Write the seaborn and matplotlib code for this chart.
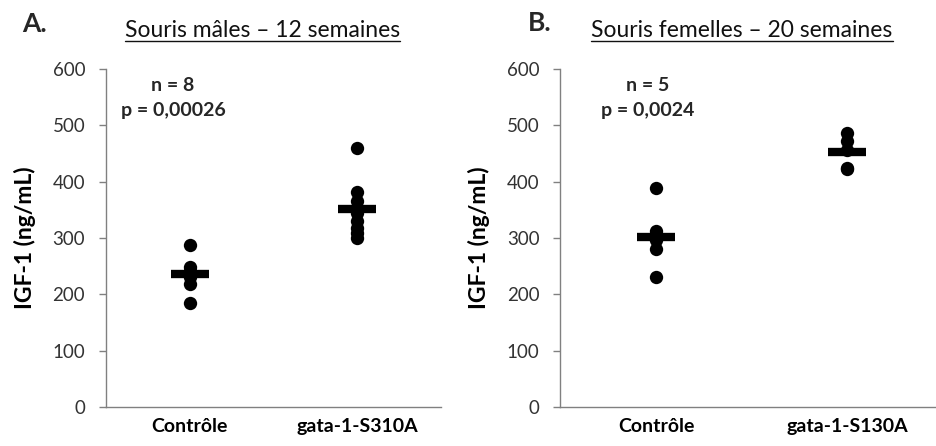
import matplotlib
matplotlib.use("Agg")
import matplotlib.pyplot as plt
import seaborn as sns
import pandas as pd
from matplotlib.lines import Line2D

# ---- data ----
groups_a = ["Contrôle", "gata-1-S310A"]
ctrl_a = [287, 248, 242, 238, 235, 230, 218, 185]
mut_a = [460, 382, 365, 345, 330, 318, 308, 300]

groups_b = ["Contrôle", "gata-1-S130A"]
ctrl_b = [388, 312, 296, 280, 230]
mut_b = [487, 473, 456, 425, 423]

titles = ["Souris mâles – 12 semaines", "Souris femelles – 20 semaines"]
letters = ["A.", "B."]
annots = [("n = 8", "p = 0,00026"), ("n = 5", "p = 0,0024")]
yticks = [0, 100, 200, 300, 400, 500, 600]
ylabel = "IGF-1 (ng/mL)"

sns.set_theme(style="white")
plt.rcParams["font.family"] = ["Lato", "DejaVu Sans"]

fig = plt.figure(figsize=(9.37, 4.46), dpi=100)
W, H = 937, 446
axA = fig.add_axes([106 / W, 1 - 407 / H, 335 / W, 338 / H])
axB = fig.add_axes([560.5 / W, 1 - 407 / H, 382 / W, 338 / H])

panels = [
    (axA, groups_a, ctrl_a, mut_a),
    (axB, groups_b, ctrl_b, mut_b),
]

for i, (ax, groups, c, m) in enumerate(panels):
    df = pd.DataFrame({
        "group": [groups[0]] * len(c) + [groups[1]] * len(m),
        "value": c + m,
    })
    sns.stripplot(data=df, x="group", y="value", order=groups, jitter=False,
                  color="black", size=9.6, linewidth=0, ax=ax, zorder=3)
    sns.pointplot(data=df, x="group", y="value", order=groups, estimator="mean",
                  errorbar=None, markers="_", linestyles="none", color="black",
                  markersize=27, markeredgewidth=6, ax=ax, zorder=4)
    ax.set_xlim(-0.5, 1.5)
    ax.set_ylim(0, 600)
    ax.set_yticks(yticks)
    ax.set_yticklabels([str(t) for t in yticks], fontsize=13.5, color="#333333")
    ax.set_xticks([0, 1])
    ax.set_xticklabels(groups, fontsize=14, fontweight="bold", color="black")
    ax.tick_params(axis="x", length=0, pad=8)
    ax.tick_params(axis="y", length=5, width=1, color="#808080", left=True,
                   direction="out", pad=10)
    ax.set_xlabel("")
    ax.set_ylabel(ylabel, fontsize=16.5, fontweight="bold", color="black", labelpad=12)
    for s in ["top", "right"]:
        ax.spines[s].set_visible(False)
    for s in ["left", "bottom"]:
        ax.spines[s].set_color("#808080")
        ax.spines[s].set_linewidth(1)
    ax.set_facecolor("white")

# annotations
for (cx, (n_txt, p_txt)) in zip([173, 648], annots):
    fig.text(cx / W, 1 - 91 / H, n_txt, ha="center", va="baseline",
             fontsize=14, fontweight="bold")
    fig.text(cx / W, 1 - 116 / H, p_txt, ha="center", va="baseline",
             fontsize=14, fontweight="bold")

# letters and titles
fig.text(22 / W, 1 - 32 / H, letters[0], ha="left", va="baseline",
         fontsize=19, fontweight="bold")
fig.text(528 / W, 1 - 31 / H, letters[1], ha="left", va="baseline",
         fontsize=19, fontweight="bold")
t1 = fig.text(262.5 / W, 1 - 37 / H, titles[0], ha="center", va="baseline",
              fontsize=16.5, color="#111111")
t2 = fig.text(742 / W, 1 - 37 / H, titles[1], ha="center", va="baseline",
              fontsize=16.5, color="#111111")

fig.canvas.draw()
r = fig.canvas.get_renderer()
for t in (t1, t2):
    bb = t.get_window_extent(renderer=r)
    y = H - 41
    fig.add_artist(Line2D([bb.x0, bb.x1], [y, y], transform=None,
                          color="#111111", linewidth=1.0))

fig.savefig("out.png", dpi=100, facecolor="white")
